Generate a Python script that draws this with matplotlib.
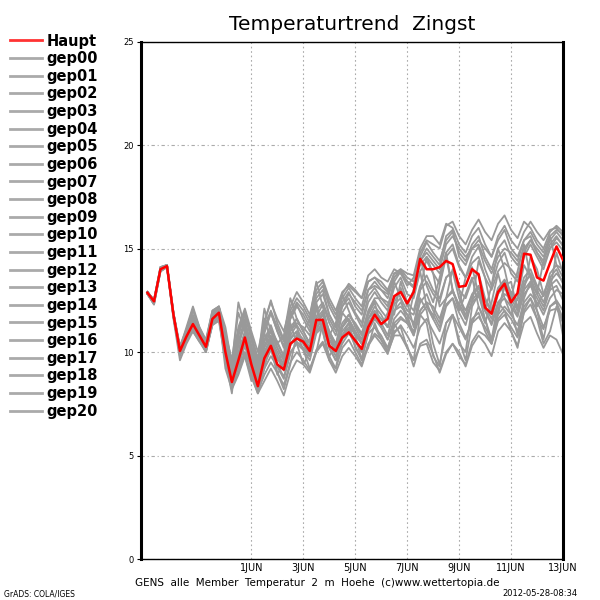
import numpy as np
import pandas as pd
import matplotlib
matplotlib.use('Agg')
import matplotlib.pyplot as plt

# 6-hourly time steps, 28 May 00Z .. 13 Jun 00Z
times = pd.date_range('2012-05-28 00:00', '2012-06-13 00:00', freq='6h')

haupt = [12.86, 12.45, 14.0, 14.15, 11.8, 10.05, 10.75, 11.35, 10.8, 10.25, 11.6, 11.9,
         10.0, 8.55, 9.6, 10.7, 9.4, 8.35, 9.7, 10.3, 9.4, 9.15, 10.4, 10.65,
         10.5, 10.05, 11.55, 11.55, 10.3, 10.05, 10.7, 10.95, 10.55, 10.15, 11.2, 11.8,
         11.35, 11.6, 12.7, 12.9, 12.35, 12.9, 14.5, 14.0, 14.0, 14.1, 14.4, 14.25,
         13.15, 13.2, 14.0, 13.75, 12.15, 11.85, 12.9, 13.3, 12.4, 12.85, 14.75, 14.7,
         13.6, 13.45, 14.3, 15.1, 14.45]

gep00 = [12.8, 12.4, 14.0, 14.1, 11.9, 10.1, 10.8, 11.5, 10.9, 10.3, 11.7, 12.0,
         10.2, 8.7, 9.8, 10.9, 9.6, 8.6, 9.9, 10.6, 9.8, 9.4, 10.7, 11.0,
         10.6, 10.1, 11.3, 11.8, 10.6, 10.2, 11.0, 11.4, 10.8, 10.4, 11.6, 12.0,
         11.6, 11.2, 12.3, 12.6, 12.0, 11.8, 13.0, 13.4, 12.8, 12.4, 13.6, 13.9,
         13.0, 12.6, 13.5, 13.8, 12.6, 12.0, 13.1, 13.5, 12.9, 12.5, 13.6, 14.0,
         13.2, 12.7, 13.8, 14.2, 13.6]
gep01 = [12.9, 12.5, 14.1, 14.2, 11.7, 10.0, 10.9, 11.6, 11.0, 10.4, 11.8, 12.2,
         10.6, 9.4, 11.2, 12.1, 11.0, 10.0, 11.5, 12.4, 11.6, 11.0, 12.2, 12.9,
         12.4, 11.8, 13.3, 13.5, 12.6, 12.0, 12.9, 13.2, 12.9, 12.6, 13.7, 14.0,
         13.6, 13.4, 14.0, 13.8, 13.2, 13.6, 14.8, 15.4, 15.2, 15.0, 16.1, 16.3,
         15.6, 15.2, 15.9, 16.4, 15.8, 15.4, 16.2, 16.6, 15.9, 15.5, 16.3, 16.0,
         15.4, 15.0, 15.8, 16.1, 15.8]
gep02 = [12.8, 12.3, 13.9, 14.1, 11.6, 9.6, 10.4, 11.0, 10.5, 10.0, 11.3, 11.5,
         9.6, 8.2, 8.9, 9.8, 8.9, 8.0, 8.6, 9.2, 8.6, 7.9, 9.0, 9.6,
         9.4, 9.0, 10.0, 10.4, 9.6, 9.0, 9.8, 10.2, 9.8, 9.3, 10.3, 10.8,
         10.4, 9.9, 10.9, 11.3, 10.8, 10.2, 11.2, 11.6, 11.0, 10.4, 11.4, 11.8,
         11.2, 10.6, 11.6, 11.9, 11.0, 10.4, 11.5, 11.8, 11.2, 10.7, 11.9, 12.3,
         11.6, 11.1, 12.2, 12.5, 12.0]
gep03 = [12.9, 12.4, 14.0, 14.2, 11.8, 10.2, 10.6, 11.2, 10.7, 10.2, 11.5, 11.8,
         10.8, 9.6, 11.9, 11.0, 9.4, 8.9, 11.6, 10.6, 9.6, 9.9, 12.0, 11.2,
         10.4, 10.6, 12.4, 11.0, 9.8, 10.3, 11.9, 11.5, 10.8, 9.6, 10.2, 11.4,
         10.6, 10.0, 11.4, 10.8, 10.3, 9.3, 10.4, 10.6, 9.9, 9.0, 9.9, 10.4,
         10.0, 9.3, 10.3, 10.8, 10.4, 9.8, 11.0, 11.4, 11.0, 10.3, 11.4, 11.7,
         10.9, 10.2, 10.8, 10.6, 9.9]
gep04 = [12.9, 12.5, 14.0, 14.2, 11.9, 10.2, 10.9, 11.6, 10.9, 10.4, 11.7, 12.1,
         10.4, 9.0, 10.5, 11.6, 10.2, 9.0, 10.6, 11.3, 10.4, 9.8, 11.0, 11.6,
         11.0, 10.4, 11.7, 12.3, 11.4, 10.8, 11.9, 12.4, 11.8, 11.2, 12.4, 12.9,
         12.4, 12.0, 13.1, 13.6, 12.8, 12.6, 13.9, 14.4, 13.8, 13.3, 14.8, 15.2,
         14.2, 13.6, 14.6, 15.1, 14.0, 13.2, 14.3, 14.8, 13.8, 13.4, 14.6, 15.2,
         14.6, 14.0, 15.0, 15.5, 15.2]
gep05 = [12.8, 12.4, 14.0, 14.1, 11.7, 9.9, 10.6, 11.2, 10.6, 10.1, 11.4, 11.7,
         9.8, 8.4, 9.3, 10.3, 9.2, 8.2, 9.4, 10.1, 9.4, 8.8, 10.0, 10.4,
         10.1, 9.6, 10.9, 11.2, 10.4, 9.8, 10.8, 11.2, 10.9, 10.6, 11.8, 12.4,
         11.2, 11.9, 13.4, 12.6, 11.4, 12.8, 13.9, 12.2, 11.6, 13.2, 14.6, 13.0,
         12.2, 13.6, 14.1, 12.8, 12.0, 13.2, 15.0, 14.0, 12.6, 13.9, 15.2, 13.6,
         12.8, 14.4, 15.6, 14.2, 14.0]
gep06 = [12.9, 12.5, 14.1, 14.2, 11.8, 10.1, 11.0, 12.0, 11.2, 10.6, 12.0, 12.2,
         10.9, 9.6, 11.0, 12.0, 10.6, 9.4, 10.9, 11.9, 11.0, 10.2, 11.6, 12.3,
         11.6, 11.0, 12.4, 12.8, 11.8, 11.2, 12.2, 12.6, 11.9, 11.4, 12.7, 13.1,
         12.6, 12.2, 13.4, 13.9, 13.4, 13.1, 14.6, 15.3, 14.8, 14.4, 15.4, 15.8,
         14.8, 14.4, 15.2, 15.6, 14.6, 14.0, 15.0, 15.4, 14.6, 14.2, 15.0, 15.4,
         14.8, 14.4, 15.2, 15.6, 15.1]
gep07 = [12.8, 12.4, 14.0, 14.2, 11.9, 10.0, 10.7, 11.3, 10.8, 10.2, 11.6, 11.9,
         9.6, 8.0, 10.8, 9.8, 8.6, 9.0, 10.9, 10.2, 8.9, 9.5, 11.4, 10.4,
         9.4, 10.0, 12.2, 11.0, 9.6, 9.2, 10.8, 11.4, 10.2, 9.7, 11.0, 11.6,
         11.2, 10.6, 11.6, 12.0, 11.6, 10.9, 12.0, 12.4, 11.6, 11.0, 12.2, 12.6,
         11.9, 11.3, 12.5, 12.9, 12.2, 11.6, 12.8, 13.2, 12.4, 11.8, 13.2, 13.8,
         13.0, 12.4, 13.4, 13.8, 13.4]
gep08 = [12.9, 12.4, 14.0, 14.1, 11.8, 10.1, 10.8, 11.4, 10.9, 10.3, 11.6, 11.9,
         10.1, 8.7, 9.7, 10.8, 9.8, 8.8, 10.0, 10.7, 10.0, 9.4, 10.6, 11.0,
         10.4, 9.8, 11.0, 11.3, 10.2, 9.6, 10.6, 11.0, 10.3, 9.6, 10.9, 11.2,
         10.6, 10.0, 10.8, 10.8, 10.2, 9.6, 10.3, 10.4, 9.5, 9.1, 10.0, 10.4,
         9.8, 9.4, 10.5, 11.0, 10.8, 10.4, 11.6, 12.0, 11.6, 11.0, 12.2, 12.6,
         12.0, 11.2, 12.0, 12.1, 11.6]
gep09 = [12.9, 12.5, 14.0, 14.2, 11.8, 10.2, 11.0, 11.8, 11.0, 10.4, 11.8, 12.1,
         10.5, 9.2, 10.4, 11.3, 10.0, 9.0, 10.3, 11.0, 10.2, 9.6, 11.0, 11.4,
         11.2, 10.8, 12.0, 12.4, 11.6, 11.0, 12.2, 12.8, 12.4, 12.0, 13.0, 13.2,
         13.0, 12.8, 13.6, 13.9, 13.4, 13.2, 14.2, 14.6, 14.2, 13.8, 14.6, 15.0,
         14.1, 13.6, 14.3, 14.6, 13.6, 13.0, 13.9, 14.3, 14.0, 13.6, 14.8, 15.4,
         15.0, 14.6, 15.4, 15.8, 15.4]
gep10 = [12.8, 12.3, 13.9, 14.1, 11.8, 9.8, 10.5, 11.1, 10.6, 10.0, 11.4, 11.8,
         10.0, 8.4, 9.2, 10.0, 9.3, 8.3, 9.2, 9.8, 9.3, 8.7, 9.9, 10.5,
         10.2, 9.8, 11.1, 11.6, 10.9, 10.2, 11.2, 11.8, 11.4, 10.9, 12.0, 12.6,
         12.6, 12.4, 11.8, 13.4, 12.4, 11.2, 13.0, 14.6, 13.8, 12.2, 12.6, 14.0,
         13.0, 11.6, 12.4, 14.4, 13.6, 12.0, 11.8, 13.2, 13.4, 12.0, 13.0, 14.6,
         14.0, 12.8, 13.0, 14.8, 13.8]
gep11 = [12.9, 12.4, 14.0, 14.2, 11.9, 10.3, 11.1, 12.1, 11.1, 10.5, 11.9, 12.2,
         11.2, 9.4, 12.4, 11.2, 10.2, 9.6, 12.1, 11.0, 10.4, 10.8, 12.6, 11.6,
         11.0, 11.6, 13.4, 12.2, 10.8, 11.4, 12.8, 12.0, 11.2, 10.6, 11.6, 12.2,
         11.8, 11.2, 12.4, 13.0, 12.4, 12.0, 13.2, 13.7, 13.0, 12.6, 13.6, 13.9,
         12.6, 12.0, 12.8, 13.2, 12.0, 11.4, 12.4, 12.8, 12.6, 12.0, 13.0, 13.4,
         12.8, 12.2, 13.2, 13.5, 13.0]
gep12 = [12.8, 12.4, 14.0, 14.1, 11.7, 10.0, 10.6, 11.0, 10.5, 10.1, 11.3, 11.6,
         9.7, 8.3, 9.0, 9.9, 9.0, 8.1, 8.9, 9.5, 9.0, 8.4, 9.5, 10.0,
         9.6, 9.1, 10.1, 10.5, 9.8, 9.2, 10.2, 10.6, 10.0, 9.4, 10.4, 10.9,
         10.6, 10.2, 11.2, 11.6, 11.4, 11.0, 12.0, 12.4, 12.2, 11.6, 12.6, 12.9,
         12.3, 11.8, 12.7, 13.1, 12.5, 11.9, 13.0, 13.4, 12.8, 12.2, 13.4, 13.7,
         13.2, 12.7, 13.6, 14.0, 13.3]
gep13 = [12.9, 12.5, 14.1, 14.2, 11.8, 10.1, 10.9, 11.7, 11.0, 10.4, 11.8, 12.1,
         10.6, 9.4, 11.0, 11.9, 10.8, 9.7, 11.2, 12.0, 11.2, 10.5, 11.8, 12.4,
         12.0, 11.4, 12.8, 13.2, 12.2, 11.6, 12.6, 13.1, 12.6, 12.2, 13.4, 13.6,
         13.2, 12.9, 13.8, 14.0, 13.8, 13.7, 15.0, 15.6, 15.6, 15.2, 16.2, 16.0,
         15.2, 14.8, 15.6, 16.0, 15.2, 14.6, 15.6, 16.1, 15.4, 15.0, 15.8, 16.3,
         15.8, 15.4, 15.9, 16.0, 15.6]
gep14 = [12.8, 12.4, 14.0, 14.2, 11.8, 10.0, 10.7, 11.4, 10.8, 10.2, 11.6, 12.0,
         10.2, 8.8, 10.0, 11.0, 9.9, 8.9, 10.2, 10.8, 10.2, 9.6, 10.8, 11.3,
         10.8, 10.2, 11.4, 11.9, 11.0, 10.4, 11.4, 11.8, 11.3, 10.8, 11.9, 12.5,
         12.0, 11.6, 12.6, 13.1, 12.2, 13.0, 14.6, 13.2, 12.4, 13.6, 14.8, 13.0,
         12.0, 12.8, 13.6, 12.2, 11.4, 12.4, 13.8, 12.6, 11.8, 12.6, 14.2, 13.6,
         12.2, 12.8, 13.6, 12.4, 11.6]
gep15 = [12.9, 12.4, 14.0, 14.2, 11.8, 10.2, 10.8, 11.5, 10.8, 10.3, 11.6, 11.9,
         10.3, 9.0, 10.3, 11.4, 10.3, 9.2, 10.5, 11.1, 10.5, 9.8, 11.2, 11.6,
         11.0, 10.4, 11.6, 12.0, 11.0, 10.4, 11.2, 11.6, 11.0, 10.4, 11.2, 11.6,
         11.2, 10.6, 11.4, 11.7, 11.4, 10.8, 11.8, 12.2, 11.8, 11.2, 12.3, 12.6,
         11.4, 10.7, 11.4, 11.7, 11.2, 10.6, 11.8, 12.2, 11.8, 11.3, 12.4, 12.8,
         12.4, 11.8, 12.6, 13.0, 12.8]
gep16 = [12.8, 12.3, 13.9, 14.1, 11.7, 9.9, 10.6, 11.1, 10.6, 10.0, 11.4, 11.7,
         9.9, 8.5, 9.4, 10.4, 9.4, 8.4, 9.6, 10.4, 9.7, 9.1, 10.3, 10.8,
         10.4, 9.9, 11.0, 11.4, 10.6, 10.0, 10.8, 11.1, 10.6, 10.0, 10.9, 11.2,
         10.8, 10.2, 11.0, 11.2, 10.2, 9.6, 11.8, 11.4, 9.8, 9.3, 11.4, 11.8,
         10.4, 10.0, 12.2, 12.8, 11.6, 10.4, 12.0, 13.2, 12.2, 10.8, 12.6, 13.4,
         12.0, 10.6, 12.2, 12.4, 10.8]
gep17 = [12.9, 12.5, 14.0, 14.2, 11.9, 10.1, 10.9, 11.6, 10.9, 10.4, 11.7, 12.1,
         10.5, 9.2, 10.8, 11.8, 10.6, 9.4, 11.0, 11.9, 11.0, 10.3, 11.6, 12.2,
         11.8, 11.2, 12.6, 13.0, 11.8, 11.2, 12.4, 12.9, 12.2, 11.8, 13.0, 13.4,
         13.0, 12.6, 13.6, 14.0, 13.6, 13.4, 14.4, 14.8, 14.4, 14.0, 15.2, 15.6,
         15.0, 14.6, 15.0, 15.2, 14.4, 13.8, 14.6, 15.0, 14.8, 14.4, 15.4, 15.8,
         15.2, 14.8, 15.6, 15.9, 15.7]
gep18 = [12.8, 12.4, 14.0, 14.1, 11.8, 10.0, 10.7, 11.3, 10.7, 10.2, 11.5, 11.8,
         9.2, 8.2, 10.4, 9.8, 8.8, 8.0, 9.2, 10.6, 9.0, 8.2, 9.4, 10.9,
         10.1, 9.2, 10.0, 11.4, 10.2, 9.6, 10.4, 10.9, 10.5, 10.0, 11.2, 11.8,
         11.4, 10.8, 12.0, 12.4, 11.8, 11.4, 12.4, 12.8, 12.0, 11.4, 12.6, 13.0,
         12.2, 11.6, 12.4, 12.7, 12.0, 11.3, 12.3, 12.6, 12.2, 11.7, 12.8, 13.2,
         12.6, 12.0, 13.0, 13.2, 12.5]
gep19 = [12.9, 12.4, 14.1, 14.2, 11.8, 10.2, 11.2, 12.2, 11.2, 10.5, 12.0, 12.2,
         10.4, 9.1, 10.8, 12.0, 10.8, 9.6, 11.4, 12.5, 11.4, 10.6, 12.0, 12.6,
         12.2, 11.6, 13.0, 13.4, 12.4, 11.8, 12.8, 13.3, 13.0, 12.6, 13.4, 13.6,
         13.4, 13.0, 13.8, 13.8, 13.4, 13.2, 14.4, 15.0, 14.6, 14.2, 15.6, 15.9,
         14.6, 14.2, 15.0, 15.4, 15.0, 14.6, 15.4, 15.9, 15.0, 14.6, 15.4, 15.6,
         14.8, 14.2, 15.0, 15.3, 14.9]
gep20 = [12.8, 12.4, 14.0, 14.2, 11.8, 10.1, 10.8, 11.4, 10.8, 10.2, 11.6, 11.9,
         10.2, 8.8, 9.9, 10.9, 10.0, 8.8, 9.8, 10.4, 9.8, 9.2, 10.4, 10.8,
         10.6, 10.2, 11.2, 11.6, 10.8, 10.2, 11.2, 11.6, 11.0, 10.4, 11.4, 11.9,
         11.6, 11.2, 12.0, 12.2, 11.8, 10.8, 12.6, 12.0, 10.4, 9.4, 10.9, 11.8,
         10.6, 9.6, 11.4, 12.2, 11.6, 10.6, 12.4, 12.0, 11.0, 10.2, 12.0, 12.6,
         11.6, 10.4, 11.0, 12.2, 11.4]

members = [gep00, gep01, gep02, gep03, gep04, gep05, gep06, gep07, gep08, gep09, gep10,
           gep11, gep12, gep13, gep14, gep15, gep16, gep17, gep18, gep19, gep20]
member_names = ['gep%02d' % i for i in range(len(members))]

tick_dates = ['2012-06-01', '2012-06-03', '2012-06-05', '2012-06-07',
              '2012-06-09', '2012-06-11', '2012-06-13']
tick_labels = ['1JUN', '3JUN', '5JUN', '7JUN', '9JUN', '11JUN', '13JUN']
y_ticks = [0, 5, 10, 15, 20, 25]

GRAY = '#999999'

fig = plt.figure(figsize=(6, 6), dpi=100)
ax = fig.add_axes([0.235, 0.0683, 0.7033, 0.8625])

handles = []
for name, vals in zip(member_names, members):
    ln, = ax.plot(times, vals, color=GRAY, linewidth=1.3, label=name, zorder=2)
    handles.append(ln)
h_red, = ax.plot(times, haupt, color='red', linewidth=1.8, label='Haupt', zorder=3)

ax.set_xlim(pd.Timestamp('2012-05-27 18:00'), pd.Timestamp('2012-06-13 00:00'))
ax.set_ylim(0, 25)

ax.set_xticks([pd.Timestamp(d) for d in tick_dates])
ax.set_xticklabels(tick_labels, fontsize=7)
ax.set_yticks(y_ticks)
ax.set_yticklabels([str(v) for v in y_ticks], fontsize=6)
ax.tick_params(axis='x', length=0, pad=3)
ax.tick_params(axis='y', length=3, width=0.8, direction='out', pad=2)

ax.grid(True, axis='x', color='#aaaaaa', linestyle=(0, (1.5, 2.5)), linewidth=0.8)
ax.grid(True, axis='y', color='#aaaaaa', linestyle=(0, (3, 2.5, 1, 2.5)), linewidth=0.8)
ax.set_axisbelow(True)

for s in ['left', 'right']:
    ax.spines[s].set_linewidth(2.2)
for s in ['top', 'bottom']:
    ax.spines[s].set_linewidth(1.0)
    ax.spines[s].set_linestyle((0, (2, 1)))

fig.text(0.587, 0.96, 'Temperaturtrend  Zingst', ha='center', va='center', fontsize=14.5)

leg = fig.legend([h_red] + handles, ['Haupt'] + member_names,
                 loc='upper left', bbox_to_anchor=(0.016, 0.944), frameon=False,
                 fontsize=10.5, handlelength=2.2, handletextpad=0.33,
                 labelspacing=0.18, borderpad=0, borderaxespad=0)
for t in leg.get_texts():
    t.set_fontweight('bold')
for l in leg.get_lines():
    l.set_linewidth(2)
leg.get_lines()[0].set_color('#ff3333')
for l in leg.get_lines()[1:]:
    l.set_color('#aaaaaa')

fig.text(0.225, 0.028, 'GENS  alle  Member  Temperatur  2  m  Hoehe  (c)www.wettertopia.de',
         ha='left', va='center', fontsize=7.5)
fig.text(0.007, 0.010, 'GrADS: COLA/IGES', ha='left', va='center', fontsize=5.5)
fig.text(0.963, 0.010, '2012-05-28-08:34', ha='right', va='center', fontsize=6)

fig.savefig('out.png', dpi=100)
